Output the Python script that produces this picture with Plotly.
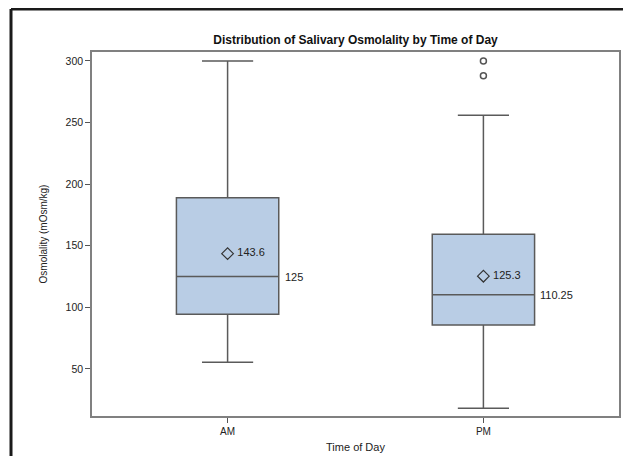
import plotly.graph_objects as go

categories = ["AM", "PM"]
q1_vals = [94.5, 85.7]
median_vals = [125, 110.25]
q3_vals = [189, 159.3]
lower_whisker = [55.4, 18]
upper_whisker = [300, 256]
mean_vals = [143.6, 125.3]
mean_labels = [" 143.6", " 125.3"]
median_labels = ["125", "110.25"]
outlier_cats = ["PM", "PM"]
outlier_vals = [300, 288]

FONT = "Liberation Sans, Arial, sans-serif"
BOX_LINE = "#5a5a5a"

# page body has an 8px default margin: figure sized to fit the window without scrolling
W, H = 615, 448
L, R, T, B = 84, 4, 44, 40

fig = go.Figure()

fig.add_trace(go.Box(
    x=categories,
    q1=q1_vals, median=median_vals, q3=q3_vals,
    lowerfence=lower_whisker, upperfence=upper_whisker,
    fillcolor="#B9CDE5",
    line=dict(color=BOX_LINE, width=1.5),
    width=0.4,
    whiskerwidth=0.5,
    boxpoints=False,
    hoverinfo="skip",
    showlegend=False,
))

fig.add_trace(go.Scatter(
    x=outlier_cats, y=outlier_vals, mode="markers",
    marker=dict(symbol="circle-open", size=6, color="#555555", line=dict(width=1.5)),
    showlegend=False, hoverinfo="skip",
))

fig.add_trace(go.Scatter(
    x=categories, y=mean_vals, mode="markers+text",
    marker=dict(symbol="diamond-open", size=9, color="#333333", line=dict(width=1.2)),
    text=mean_labels, textposition="middle right",
    textfont=dict(family=FONT, size=11, color="#222222"),
    showlegend=False, hoverinfo="skip",
))

for cat, m, lab in zip(categories, median_vals, median_labels):
    fig.add_annotation(
        x=cat, y=m, text=lab, xref="x", yref="y",
        xshift=55, xanchor="left", yanchor="middle", showarrow=False,
        font=dict(family=FONT, size=11, color="#222222"),
    )

# outer black frame (top and left visible)
fig.add_shape(type="line", xref="paper", yref="paper",
              x0=-0.1537, x1=1.1, y0=1.118, y1=1.118,
              line=dict(color="#1a1a1a", width=3))
fig.add_shape(type="line", xref="paper", yref="paper",
              x0=-0.1537, x1=-0.1537, y0=1.118, y1=-0.3,
              line=dict(color="#1a1a1a", width=3))

fig.update_layout(
    width=W, height=H,
    margin=dict(l=L, r=R, t=T, b=B, autoexpand=False),
    paper_bgcolor="white", plot_bgcolor="white",
    title=dict(text="<b>Distribution of Salivary Osmolality by Time of Day</b>",
               x=(L + (W - R)) / 2 / W, xanchor="center", y=1 - 32 / H, yanchor="middle",
               font=dict(family=FONT, size=12, color="#111111")),
    font=dict(family=FONT, size=10, color="#222222"),
)

fig.update_xaxes(
    range=[-0.53, 1.53], showgrid=False, zeroline=False,
    showline=True, linecolor="#808080", linewidth=1.5, mirror=True,
    ticks="outside", ticklen=5, tickcolor="#555555",
    tickfont=dict(family=FONT, size=10, color="#222222"),
    title=dict(text="Time of Day", font=dict(family=FONT, size=11, color="#222222"), standoff=8),
)
fig.update_yaxes(
    range=[11.8, 307.3], showgrid=False, zeroline=False,
    tickvals=[50, 100, 150, 200, 250, 300],
    showline=True, linecolor="#808080", linewidth=1.5, mirror=True,
    ticks="outside", ticklen=5, tickcolor="#555555",
    tickfont=dict(family=FONT, size=10.5, color="#222222"),
    title=dict(text="Osmolality (mOsm/kg)", font=dict(family=FONT, size=10, color="#222222"), standoff=16),
)

fig.write_html("out.html")
